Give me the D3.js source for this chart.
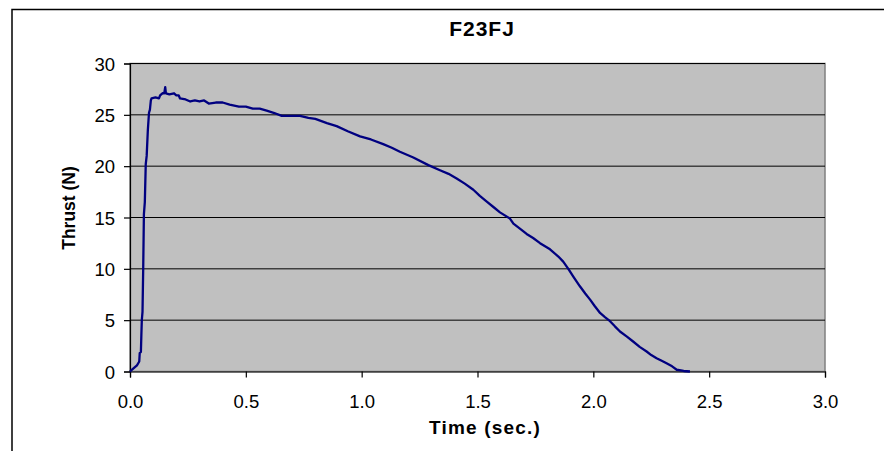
<!DOCTYPE html>
<html>
<head>
<meta charset="utf-8">
<script src="https://cdn.jsdelivr.net/npm/d3@7"></script>
<style>
  body { margin: 0; background: #fff; }
  svg text { font-family: "Liberation Sans", Arial, sans-serif; }
</style>
</head>
<body>
<div id="main"></div>
<script>
// data
const chartTitle = 'F23FJ';
const xTicks = [0, 0.5, 1.0, 1.5, 2.0, 2.5, 3.0];
const yTicks = [0, 5, 10, 15, 20, 25, 30];
const time = [
  0, 0.01, 0.02, 0.03, 0.038, 0.04, 0.042, 0.047, 0.049, 0.051, 0.054, 0.057, 0.06, 0.064,
  0.068, 0.072, 0.077, 0.082, 0.086, 0.09, 0.093, 0.11, 0.125, 0.13, 0.14, 0.148, 0.152,
  0.155, 0.17, 0.19, 0.2, 0.21, 0.216, 0.24, 0.26, 0.28, 0.3, 0.32, 0.34, 0.37, 0.4, 0.43,
  0.47, 0.5, 0.53, 0.56, 0.59, 0.62, 0.655, 0.7, 0.734, 0.77, 0.8, 0.85, 0.892, 0.94, 0.993,
  1.04, 1.093, 1.13, 1.165, 1.223, 1.288, 1.338, 1.375, 1.41, 1.445, 1.482, 1.51, 1.54,
  1.57, 1.597, 1.64, 1.655, 1.69, 1.712, 1.74, 1.77, 1.813, 1.849, 1.87, 1.892, 1.915,
  1.942, 1.965, 1.986, 2.005, 2.029, 2.05, 2.072, 2.093, 2.115, 2.145, 2.173, 2.2, 2.23,
  2.25, 2.273, 2.295, 2.316, 2.34, 2.36, 2.39, 2.417
];
const thrust = [
  0, 0.2, 0.4, 0.6, 0.9, 1.0, 1.8, 1.9, 3.5, 5.0, 5.8, 10, 15.3, 16.5,
  20.2, 21, 23.5, 25.2, 25.5, 26.4, 26.6, 26.7, 26.6, 26.9, 27.1, 27.1, 27.7,
  27.1, 27.0, 27.1, 26.9, 26.9, 26.6, 26.5, 26.3, 26.4, 26.3, 26.4, 26.1, 26.2, 26.2, 26.0,
  25.8, 25.8, 25.6, 25.6, 25.4, 25.2, 24.9, 24.9, 24.9, 24.7, 24.6, 24.2, 23.9, 23.4, 22.9,
  22.6, 22.15, 21.8, 21.4, 20.85, 20.1, 19.6, 19.25, 18.8, 18.3, 17.7, 17.1, 16.55,
  16.0, 15.5, 14.9, 14.4, 13.8, 13.4, 13.0, 12.5, 11.9, 11.2, 10.7, 10.0, 9.2,
  8.3, 7.6, 7.0, 6.4, 5.7, 5.3, 4.9, 4.4, 3.9, 3.4, 2.9, 2.4, 1.95,
  1.6, 1.3, 1.05, 0.8, 0.5, 0.17, 0.05, 0
];

const width = 884;
const height = 451;
const plot = { left: 130, right: 825, top: 63.5, bottom: 371.5 };

const points = time.map((t, i) => ({ t: t, v: thrust[i] }));

const svg = d3.select('#main')
  .append('svg')
  .attr('width', width)
  .attr('height', height);

// chart area frame (runs off the right and bottom edges)
svg.append('rect')
  .attr('x', 12)
  .attr('y', 9.5)
  .attr('width', 1000)
  .attr('height', 1000)
  .attr('fill', '#fff')
  .attr('stroke', '#000')
  .attr('stroke-width', 1.5);

const xScale = d3.scaleLinear()
  .domain([0, 3])
  .range([plot.left, plot.right]);

const yScale = d3.scaleLinear()
  .domain([0, 30])
  .range([plot.bottom, plot.top]);

// plot area
svg.append('rect')
  .attr('x', plot.left)
  .attr('y', plot.top)
  .attr('width', plot.right - plot.left)
  .attr('height', plot.bottom - plot.top)
  .attr('fill', '#c0c0c0')
  .attr('stroke', '#808080')
  .attr('stroke-width', 1.5);

// horizontal gridlines
svg.append('g')
  .selectAll('line')
  .data(yTicks.filter((d) => d > 0))
  .enter()
  .append('line')
  .attr('x1', plot.left)
  .attr('x2', plot.right)
  .attr('y1', (d) => yScale(d))
  .attr('y2', (d) => yScale(d))
  .attr('stroke', '#000')
  .attr('stroke-width', 1);

const xAxis = svg.append('g')
  .attr('transform', `translate(0, ${plot.bottom})`)
  .call(d3.axisBottom(xScale)
    .tickValues(xTicks)
    .tickSize(6)
    .tickPadding(17)
    .tickFormat(d3.format('.1f')));

const yAxis = svg.append('g')
  .attr('transform', `translate(${plot.left}, 0)`)
  .call(d3.axisLeft(yScale)
    .tickValues(yTicks)
    .tickSize(6)
    .tickPadding(9)
    .tickFormat(d3.format('d')));

[xAxis, yAxis].forEach((ax) => {
  ax.select('.domain').attr('stroke', '#000').attr('stroke-width', 1.2);
  ax.selectAll('.tick line').attr('stroke', '#000').attr('stroke-width', 1.2);
  ax.selectAll('.tick text')
    .attr('fill', '#000')
    .style('font-size', '18.5px')
    .style('font-family', '"Liberation Sans", Arial, sans-serif');
});
yAxis.selectAll('.tick text').attr('dy', '0.36em');

// thrust curve
const line = d3.line()
  .x((d) => xScale(d.t))
  .y((d) => yScale(d.v));

svg.append('path')
  .datum(points)
  .attr('d', line)
  .attr('fill', 'none')
  .attr('stroke', '#000080')
  .attr('stroke-width', 2.3)
  .attr('stroke-linejoin', 'round');

// titles
svg.append('text')
  .attr('x', 482)
  .attr('y', 36)
  .attr('text-anchor', 'middle')
  .style('font-size', '21px')
  .style('font-weight', 'bold')
  .style('letter-spacing', '1px')
  .text(chartTitle);

svg.append('text')
  .attr('x', 485)
  .attr('y', 434)
  .attr('text-anchor', 'middle')
  .style('font-size', '19px')
  .style('font-weight', 'bold')
  .style('letter-spacing', '1.2px')
  .text('Time (sec.)');

svg.append('text')
  .attr('transform', 'translate(75, 208) rotate(-90)')
  .attr('text-anchor', 'middle')
  .style('font-size', '17.5px')
  .style('font-weight', 'bold')
  .text('Thrust (N)');
</script>
</body>
</html>
